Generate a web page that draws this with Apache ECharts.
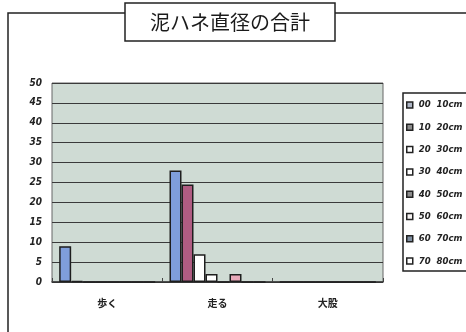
<!DOCTYPE html>
<html>
<head>
<meta charset="utf-8">
<script src="https://cdn.jsdelivr.net/npm/echarts@6/dist/echarts.min.js"></script>
<style>
  html, body { margin: 0; padding: 0; background: #ffffff; }
  #chart { width: 466px; height: 332px; }
</style>
</head>
<body>
<div id="chart"></div>
<script>
// Gait categories on the x axis
const categories = ['歩く', '走る', '大股'];

// Splash diameter classes (one series each)
const seriesNames = ['00  10cm', '10  20cm', '20  30cm', '30  40cm', '40  50cm', '50  60cm', '60  70cm', '70  80cm'];

// Totals per diameter class, in category order
const d00_10 = [9, 28, 0];
const d10_20 = [0.3, 24.5, 0];
const d20_30 = [0, 7, 0];
const d30_40 = [0, 2, 0];
const d40_50 = [0, 0, 0];
const d50_60 = [0, 2, 0];
const d60_70 = [0, 0, 0];
const d70_80 = [0, 0, 0];

// Value axis
const yMin = 0;
const yMax = 50;
const yStep = 5;

const seriesValues = [d00_10, d10_20, d20_30, d30_40, d40_50, d50_60, d60_70, d70_80];
const barColors = ['#7f9edb', '#b05c82', '#ffffff', '#ffffff', '#6a3a6a', '#e9a9ba', '#4f72b0', '#ffffff'];
const legendColors = ['#aeb6c6', '#8c8c8c', '#ffffff', '#ffffff', '#8c8c8c', '#f6f3f3', '#7f8ea0', '#ffffff'];

const chart = echarts.init(document.getElementById('chart'), null, { renderer: 'canvas' });

const labelFont = "'DejaVu Sans Condensed', 'DejaVu Sans', sans-serif";

chart.setOption({
  animation: false,
  backgroundColor: '#ffffff',
  graphic: [
    // outer chart frame
    {
      type: 'rect', z: 0, silent: true,
      shape: { x: 8, y: 13, width: 470, height: 340 },
      style: { fill: 'none', stroke: '#222', lineWidth: 1.5 }
    },
    // title box
    {
      type: 'rect', z: 5, silent: true,
      shape: { x: 125, y: 3, width: 210, height: 38 },
      style: { fill: '#ffffff', stroke: '#222', lineWidth: 1.5 }
    },
    {
      type: 'text', z: 6, silent: true,
      x: 230, y: 22,
      style: {
        text: '泥ハネ直径の合計',
        fill: '#1a1a1a',
        font: "20px 'Noto Sans CJK JP', sans-serif",
        align: 'center', verticalAlign: 'middle'
      }
    },
    // legend frame
    {
      type: 'rect', z: 1, silent: true,
      shape: { x: 403, y: 93, width: 70, height: 178 },
      style: { fill: '#ffffff', stroke: '#222', lineWidth: 1.5 }
    }
  ],
  grid: {
    left: 52, top: 83, width: 331, height: 199,
    show: true,
    backgroundColor: '#cfdbd4',
    borderColor: '#666',
    borderWidth: 1
  },
  legend: {
    orient: 'vertical',
    left: 406, top: 100,
    padding: 0,
    itemWidth: 6, itemHeight: 6,
    itemGap: 12.3,
    icon: 'rect',
    z: 3,
    textStyle: {
      fontFamily: labelFont,
      fontWeight: 'bold',
      fontStyle: 'italic',
      fontSize: 9.5,
      lineHeight: 10,
      color: '#222',
      padding: [0, 0, 0, 1]
    },
    data: seriesNames.map((n, i) => ({
      name: n,
      itemStyle: { color: legendColors[i], borderColor: '#222', borderWidth: 1.5 }
    }))
  },
  xAxis: {
    type: 'category',
    data: categories,
    axisLine: { lineStyle: { color: '#333', width: 1.5 } },
    axisTick: { show: true, inside: true, length: 4, lineStyle: { color: '#444' } },
    axisLabel: {
      margin: 16,
      fontFamily: "'Noto Sans CJK JP', sans-serif",
      fontWeight: 'bold',
      fontSize: 10,
      color: '#222'
    }
  },
  yAxis: {
    type: 'value',
    min: yMin, max: yMax, interval: yStep,
    axisLine: { show: false },
    axisTick: { show: false },
    axisLabel: {
      margin: 10,
      fontFamily: labelFont,
      fontWeight: 'bold',
      fontStyle: 'italic',
      fontSize: 10,
      color: '#222'
    },
    splitLine: { lineStyle: { color: '#3a3a3a', width: 1.2 } }
  },
  series: seriesNames.map((n, i) => ({
    name: n,
    type: 'bar',
    data: seriesValues[i],
    barGap: '0%',
    barCategoryGap: '13%',
    itemStyle: { color: barColors[i], borderColor: '#1e1e1e', borderWidth: 1.5 }
  }))
});
</script>
</body>
</html>
